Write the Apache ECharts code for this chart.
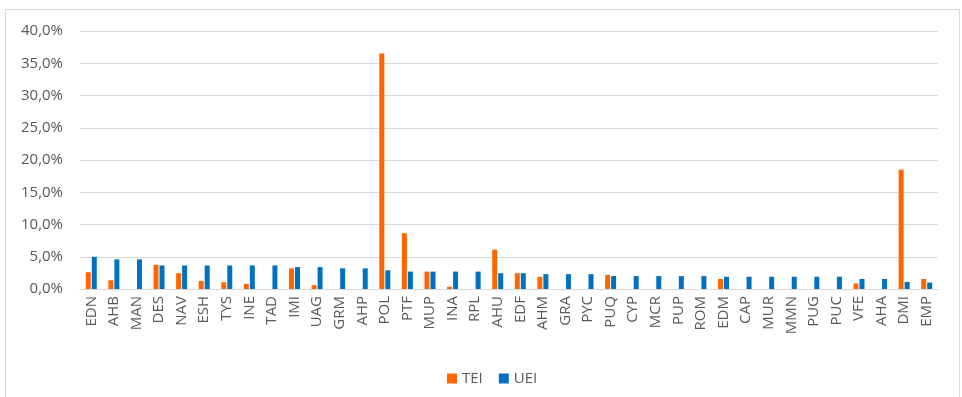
<!DOCTYPE html>
<html>
<head>
<meta charset="utf-8">
<script src="https://cdn.jsdelivr.net/npm/echarts@6/dist/echarts.min.js"></script>
<style>
  html, body { margin: 0; padding: 0; background: #fff; }
  #chart { width: 962px; height: 397px; }
</style>
</head>
<body>
<div id="chart"></div>
<script>
const categories = ['EDN', 'AHB', 'MAN', 'DES', 'NAV', 'ESH', 'TYS', 'INE', 'TAD', 'IMI',
  'UAG', 'GRM', 'AHP', 'POL', 'PTF', 'MUP', 'INA', 'RPL', 'AHU', 'EDF',
  'AHM', 'GRA', 'PYC', 'PUQ', 'CYP', 'MCR', 'PUP', 'ROM', 'EDM', 'CAP',
  'MUR', 'MMN', 'PUG', 'PUC', 'VFE', 'AHA', 'DMI', 'EMP']
// values in %
const tei = [2.6, 1.35, 0, 3.75, 2.45, 1.25, 1.05, 0.8, 0, 3.2,
  0.6, 0, 0, 36.5, 8.65, 2.7, 0.35, 0, 6.1, 2.45,
  1.9, 0, 0, 2.2, 0, 0, 0, 0, 1.55, 0,
  0, 0, 0, 0, 0.85, 0, 18.5, 1.55]
const uei = [5.0, 4.6, 4.6, 3.65, 3.65, 3.65, 3.65, 3.65, 3.65, 3.4,
  3.4, 3.2, 3.2, 2.9, 2.7, 2.7, 2.7, 2.7, 2.45, 2.45,
  2.3, 2.3, 2.3, 2.0, 2.0, 2.0, 2.0, 2.0, 1.9, 1.9,
  1.9, 1.9, 1.9, 1.9, 1.55, 1.55, 1.1, 1.0]

const chart = echarts.init(document.getElementById('chart'))
const textColor = '#595959'
const fontFamily = 'Open Sans'

chart.setOption({
  animation: false,
  textStyle: { fontFamily: fontFamily },
  graphic: [
    {
      type: 'rect',
      shape: { x: 5.5, y: 9.5, width: 954, height: 400 },
      style: { fill: 'none', stroke: '#d9d9d9', lineWidth: 1 }
    }
  ],
  grid: { left: 80, right: 24, top: 31, bottom: 108 },
  legend: {
    data: ['TEI', 'UEI'],
    left: 442,
    top: 366,
    itemWidth: 10,
    itemHeight: 10,
    itemGap: 16,
    icon: 'rect',
    textStyle: { color: textColor, fontSize: 15, fontFamily: fontFamily }
  },
  xAxis: {
    type: 'category',
    data: categories,
    axisLine: { lineStyle: { color: '#d9d9d9' } },
    axisTick: { show: false },
    axisLabel: {
      rotate: 90,
      interval: 0,
      color: textColor,
      fontSize: 15,
      margin: 7,
      fontFamily: fontFamily
    }
  },
  yAxis: {
    type: 'value',
    min: 0,
    max: 40,
    interval: 5,
    axisLine: { show: false },
    axisTick: { show: false },
    splitLine: { lineStyle: { color: '#d9d9d9' } },
    axisLabel: {
      color: textColor,
      fontSize: 15,
      margin: 17,
      fontFamily: fontFamily,
      formatter: v => v.toFixed(1).replace('.', ',') + '%'
    }
  },
  series: [
    {
      name: 'TEI',
      type: 'bar',
      data: tei,
      barWidth: 5,
      barGap: '20%',
      itemStyle: { color: '#ff6600' }
    },
    {
      name: 'UEI',
      type: 'bar',
      data: uei,
      barWidth: 5,
      itemStyle: { color: '#0070c0' }
    }
  ]
})
</script>
</body>
</html>
